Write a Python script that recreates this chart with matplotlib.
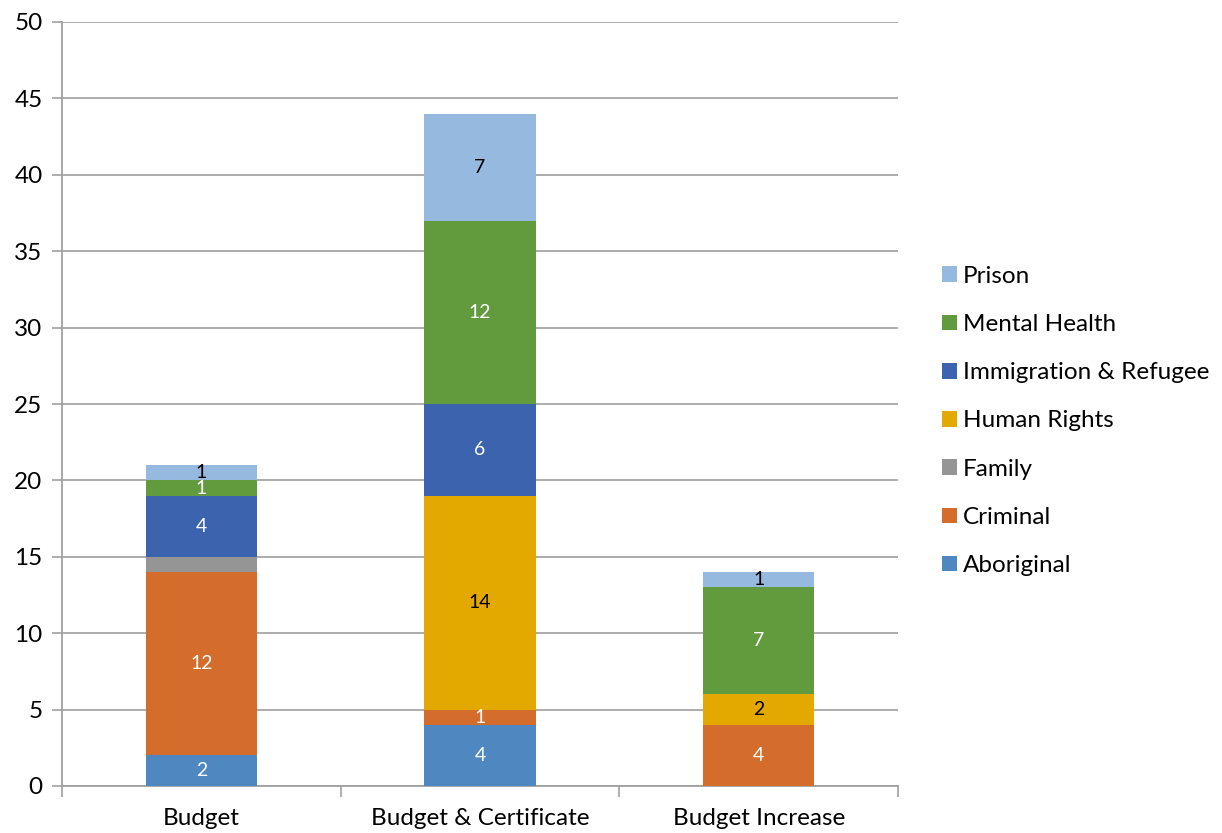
import matplotlib
matplotlib.use("Agg")
import matplotlib.pyplot as plt
from matplotlib.patches import Patch
import numpy as np

plt.rcParams['font.family'] = ['Lato', 'DejaVu Sans']

categories = ["Budget", "Budget & Certificate", "Budget Increase"]
series_names = ["Aboriginal", "Criminal", "Family", "Human Rights",
                "Immigration & Refugee", "Mental Health", "Prison"]
aboriginal = [2, 4, 0]
criminal = [12, 1, 4]
family = [1, 0, 0]
human_rights = [0, 14, 2]
immigration = [4, 6, 0]
mental_health = [1, 12, 7]
prison = [1, 7, 1]
series_values = [aboriginal, criminal, family, human_rights,
                 immigration, mental_health, prison]
colors = ["#4F88C0", "#D46C2B", "#959595", "#E3A900",
          "#3C63AE", "#629A3E", "#96B9E0"]
label_colors = ["white", "white", None, "black", "white", "white", "black"]
y_ticks = [0, 5, 10, 15, 20, 25, 30, 35, 40, 45, 50]

fig = plt.figure(figsize=(12.22, 8.33), dpi=100)
ax = fig.add_axes([62 / 1222, 1 - 786 / 833, (898 - 62) / 1222, (786 - 22) / 833])

x = np.arange(len(categories))
bottom = np.zeros(len(categories))
handles = []
for name, vals, col, lc in zip(series_names, series_values, colors, label_colors):
    vals = np.array(vals, dtype=float)
    ax.bar(x, vals, width=0.4, bottom=bottom, color=col, zorder=3, linewidth=0)
    if lc is not None:
        for xi, b, v in zip(x, bottom, vals):
            if v > 0:
                ax.text(xi, b + v / 2, f"{int(v)}", ha="center", va="center",
                        color=lc, fontsize=14, zorder=4)
    bottom += vals
    handles.append(Patch(facecolor=col, edgecolor="none", label=name))

ax.set_xlim(-0.5, 2.5)
ax.set_ylim(0, 50)
ax.set_yticks(y_ticks)
ax.tick_params(axis="y", labelsize=17.5, length=7, color="#A0A0A0", width=1.2, pad=7)
ax.yaxis.grid(True, color="#A6A6A6", linewidth=1.3, zorder=0)
ax.set_axisbelow(True)

ax.set_xticks(x)
ax.set_xticklabels(categories, fontsize=17.5)
ax.set_xticks([-0.5, 0.5, 1.5, 2.5], minor=True)
ax.tick_params(axis="x", which="major", length=0, pad=16)
ax.tick_params(axis="x", which="minor", length=8, color="#A0A0A0", width=1.2)

for s in ["top", "right"]:
    ax.spines[s].set_visible(False)
for s in ["left", "bottom"]:
    ax.spines[s].set_color("#A0A0A0")
    ax.spines[s].set_linewidth(1.3)

leg = fig.legend(handles=handles[::-1], loc="center left",
                 bbox_to_anchor=(942 / 1222, 1 - 421 / 833), frameon=False,
                 borderpad=0, borderaxespad=0,
                 fontsize=17.5, handlelength=0.62, handleheight=0.62,
                 handletextpad=0.25, labelspacing=1.12)

fig.savefig("out.png", dpi=100)
